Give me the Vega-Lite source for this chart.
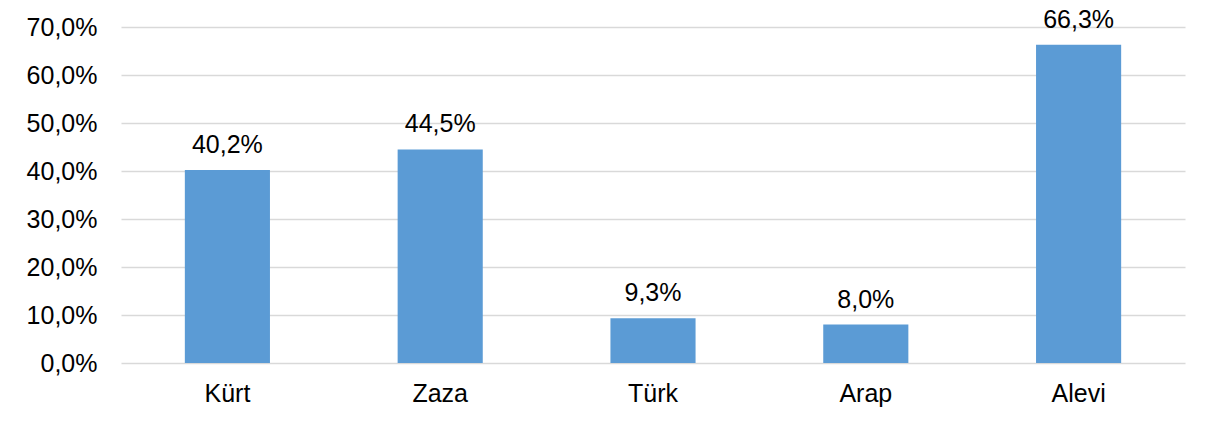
{
  "$schema": "https://vega.github.io/schema/vega-lite/v6.json",
  "width": 1064,
  "height": 336,
  "autosize": "none",
  "padding": {"left": 121, "top": 27, "right": 30, "bottom": 65},
  "background": "white",
  "config": {
    "locale": {"number": {"decimal": ",", "thousands": ".", "grouping": [3], "currency": ["", " TL"]}},
    "view": {"stroke": null},
    "font": "Liberation Sans"
  },
  "data": {
    "values": [
      {"grup": "Kürt", "oran": 0.402},
      {"grup": "Zaza", "oran": 0.445},
      {"grup": "Türk", "oran": 0.093},
      {"grup": "Arap", "oran": 0.080},
      {"grup": "Alevi", "oran": 0.663}
    ]
  },
  "encoding": {
    "x": {
      "field": "grup", "type": "nominal", "sort": null,
      "scale": {"paddingInner": 0.6, "paddingOuter": 0.3},
      "axis": {"title": null, "labelAngle": 0, "labelFontSize": 25, "labelColor": "#000000", "labelFont": "Liberation Sans", "domain": false, "ticks": false, "labelPadding": 18}
    },
    "y": {
      "field": "oran", "type": "quantitative",
      "scale": {"domain": [0, 0.7], "nice": false},
      "axis": {"title": null, "format": ".1%", "values": [0, 0.1, 0.2, 0.3, 0.4, 0.5, 0.6, 0.7], "labelFontSize": 25, "labelColor": "#000000", "labelFont": "Liberation Sans", "domain": false, "ticks": false, "labelPadding": 24, "gridColor": "#d9d9d9", "gridWidth": 1.5}
    }
  },
  "layer": [
    {"mark": {"type": "bar", "color": "#5b9bd5"}},
    {
      "mark": {"type": "text", "baseline": "bottom", "dy": -12, "fontSize": 25, "color": "#000000", "font": "Liberation Sans"},
      "encoding": {"text": {"field": "oran", "type": "quantitative", "format": ".1%"}}
    }
  ]
}
